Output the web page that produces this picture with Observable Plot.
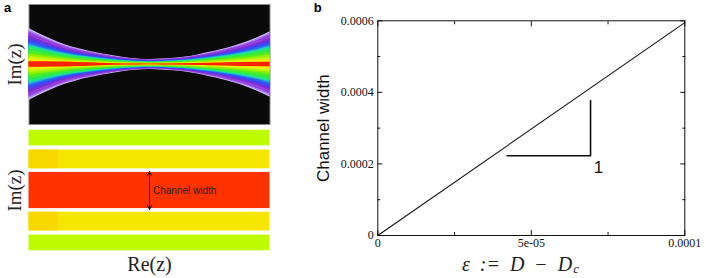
<!DOCTYPE html>
<html>
<head>
<meta charset="utf-8">
<script src="https://cdn.jsdelivr.net/npm/d3@7"></script>
<script src="https://cdn.jsdelivr.net/npm/@observablehq/plot@0.6"></script>
<style>
html,body{margin:0;padding:0;background:#fff;}
#root{position:relative;width:706px;height:278px;overflow:hidden;}
#root svg{position:absolute;overflow:visible;background:transparent;}
</style>
</head>
<body>
<div id="root"></div>
<script>
// Panel a, top: position along Re(z) and half-width of the spectrum envelope
const reValues = [0,0.05,0.1,0.15,0.2,0.25,0.3,0.35,0.4,0.45,0.5,0.55,0.6,0.65,0.7,0.75,0.8,0.85,0.9,0.95,1];
const envelope = [0.6,0.5,0.41,0.33,0.27,0.222,0.18,0.145,0.113,0.093,0.083,0.09,0.105,0.125,0.16,0.203,0.25,0.305,0.37,0.45,0.544];
// nested contour levels, outside to inside, as a share of the envelope
const bandLevels = [1,0.95,0.9,0.85,0.8,0.75,0.7,0.62,0.56,0.52,0.46,0.38,0.3,0.23,0.17,0.1,0.07];
const bandColors = ["#c8b0f6","#a878f0","#9040e0","#a040d8","#7a30d0","#6a30e8","#3a48f0","#2870f0","#20b8d8","#20e880","#30e850","#50ee20","#90f000","#c0f400","#f0f000","#fcc000","#fc8000"];
// red core half-width
const coreHalf = [0.045,0.045,0.042,0.04,0.034,0.028,0.02,0.014,0.01,0.007,0.006,0.007,0.009,0.012,0.016,0.02,0.024,0.028,0.032,0.034,0.035];

// Panel a, bottom: the channels
const chanLow  = [0.74,0.36,-0.3,-0.67,-1];
const chanHigh = [1,0.67,0.3,-0.36,-0.74];
const chanColor = ["#bdfd00","#f6e600","#ff3300","#f6e600","#bdfd00"];
const patchLow = [0.36,-0.67];
const patchHigh = [0.67,-0.36];
const patchEnd = 0.122;
const patchColor = "#f8d800";
const arrowRe = 0.5;
const arrowIm = [-0.31,0.31];

// Panel b
const eps = [0,0.0001];
const width = [0,0.000595];
const xMajor = [0,0.00005,0.0001];
const xMajorLabels = ["0","5e-05","0.0001"];
const xMinor = [0.000025,0.000075];
const yMajor = [0,0.0002,0.0004,0.0006];
const yMajorLabels = ["0","0.0002","0.0004","0.0006"];
const yMinor = [0.0001,0.0003,0.0005];
const triX = [0.0000421,0.0000693,0.0000693];
const triY = [0.000223,0.000223,0.000377];

const serif = "'Liberation Serif','DejaVu Serif',serif";
const sans = "'Liberation Sans',Arial,sans-serif";
const root = document.getElementById("root");
function place(svg,left,top){svg.style.left=left+"px";svg.style.top=top+"px";root.appendChild(svg);}

// top of panel a
const topRows = reValues.map((re,i)=>({re,env:envelope[i],core:coreHalf[i]}));
const bands = bandLevels.map((lv,k)=>Plot.areaY(topRows,{
  x:"re",y1:d=>-d.env*lv,y2:d=>d.env*lv,fill:bandColors[k],curve:"monotone-x"}));
place(Plot.plot({
  width:280,height:126,marginLeft:28.5,marginRight:10.5,marginTop:4,marginBottom:2,
  x:{domain:[0,1],axis:null},y:{domain:[-1,1],axis:null},
  style:{background:"transparent"},
  marks:[
    Plot.frame({fill:"#0a0a0a",stroke:"#8a8a8a"}),
    ...bands,
    Plot.areaY(topRows,{x:"re",y1:d=>-d.core,y2:d=>d.core,fill:"#ff2400",curve:"monotone-x"}),
    Plot.text(["a"],{frameAnchor:"top-left",dx:-25,dy:-2,fontFamily:sans,fontWeight:"bold",fontSize:13,fill:"#000",textAnchor:"start"}),
    Plot.text(["Im(z)"],{frameAnchor:"left",dx:-14,rotate:-90,textAnchor:"middle",fontFamily:serif,fontSize:19,fill:"#222"})
  ]}),0,0);

// bottom of panel a
place(Plot.plot({
  width:280,height:150,marginLeft:28.5,marginRight:10.5,marginTop:9.7,marginBottom:19.7,
  x:{domain:[0,1],axis:null},y:{domain:[-1,1],axis:null},
  style:{background:"transparent"},
  marks:[
    Plot.rect(chanLow.map((v,i)=>i),{x1:()=>0,x2:()=>1,y1:i=>chanLow[i],y2:i=>chanHigh[i],fill:i=>chanColor[i]}),
    Plot.rect(patchLow.map((v,i)=>i),{x1:()=>0,x2:()=>patchEnd,y1:i=>patchLow[i],y2:i=>patchHigh[i],fill:patchColor}),
    Plot.arrow([0],{x1:()=>arrowRe,x2:()=>arrowRe,y1:()=>arrowIm[0],y2:()=>arrowIm[1],stroke:"#111",strokeWidth:1,headLength:7,bend:0}),
    Plot.arrow([0],{x1:()=>arrowRe,x2:()=>arrowRe,y1:()=>arrowIm[1],y2:()=>arrowIm[0],stroke:"#111",strokeWidth:1,headLength:7,bend:0}),
    Plot.text(["Channel width"],{x:()=>arrowRe,y:()=>0,dx:3.5,textAnchor:"start",fontFamily:sans,fontSize:10,fill:"#222"}),
    Plot.text(["Im(z)"],{frameAnchor:"left",dx:-14,rotate:-90,textAnchor:"middle",fontFamily:serif,fontSize:19,fill:"#222"}),
    Plot.text(["Re(z)"],{frameAnchor:"bottom",dy:20,fontFamily:serif,fontSize:20,fill:"#222"})
  ]}),0,120);

// panel b
const yTicksAll = (anchor,ticks,size,fmt)=>Plot.axisY({anchor,ticks,tickSize:size,tickPadding:fmt?9:0,tickFormat:fmt||(()=>null),fontSize:12,label:null,color:"#111"});
const xTicksAll = (anchor,ticks,size,fmt)=>Plot.axisX({anchor,ticks,tickSize:size,tickPadding:fmt?8:0,tickFormat:fmt||(()=>null),fontSize:12,label:null,color:"#111"});
const xFmt = v=>xMajorLabels[xMajor.indexOf(v)];
const yFmt = v=>yMajorLabels[yMajor.indexOf(v)];
place(Plot.plot({
  width:406,height:278,marginLeft:77.3,marginRight:21.7,marginTop:20.3,marginBottom:43,
  x:{domain:[0,0.0001]},y:{domain:[0,0.0006]},
  style:{background:"transparent",fontFamily:serif,fontSize:"12px"},
  marks:[
    xTicksAll("bottom",xMajor,-5,xFmt),
    xTicksAll("top",xMajor,-5),
    xTicksAll("bottom",xMinor,-3),
    xTicksAll("top",xMinor,-3),
    yTicksAll("left",yMajor,-5,yFmt),
    yTicksAll("right",yMajor,-5),
    yTicksAll("left",yMinor,-3),
    yTicksAll("right",yMinor,-3),
    Plot.frame({stroke:"#111",strokeWidth:1}),
    Plot.line(eps.map((e,i)=>({e,w:width[i]})),{x:"e",y:"w",stroke:"#111",strokeWidth:1.1}),
    Plot.line(triX.map((e,i)=>({e,w:triY[i]})),{x:"e",y:"w",stroke:"#111",strokeWidth:1.6}),
    Plot.text(["1"],{x:()=>triX[2]+0.0000026,y:()=>triY[0]-0.000032,fontFamily:sans,fontSize:17,fill:"#111"}),
    Plot.text(["Channel width"],{frameAnchor:"left",dx:-54.6,rotate:-90,textAnchor:"middle",fontFamily:sans,fontSize:17,fill:"#111"}),
    Plot.text(["b"],{frameAnchor:"top-left",dx:-64,dy:-18,fontFamily:sans,fontWeight:"bold",fontSize:13,fill:"#000",textAnchor:"start"}),
    Plot.text(["ε\u2002:=\u2002D\u2002−\u2002D"],{frameAnchor:"bottom",dy:35,dx:41,textAnchor:"end",fontFamily:serif,fontStyle:"italic",fontSize:20,fill:"#222"}),
    Plot.text(["c"],{frameAnchor:"bottom",dy:37,dx:42,textAnchor:"start",fontFamily:serif,fontStyle:"italic",fontSize:13,fill:"#222"})
  ]}),300,0);
</script>
</body>
</html>
